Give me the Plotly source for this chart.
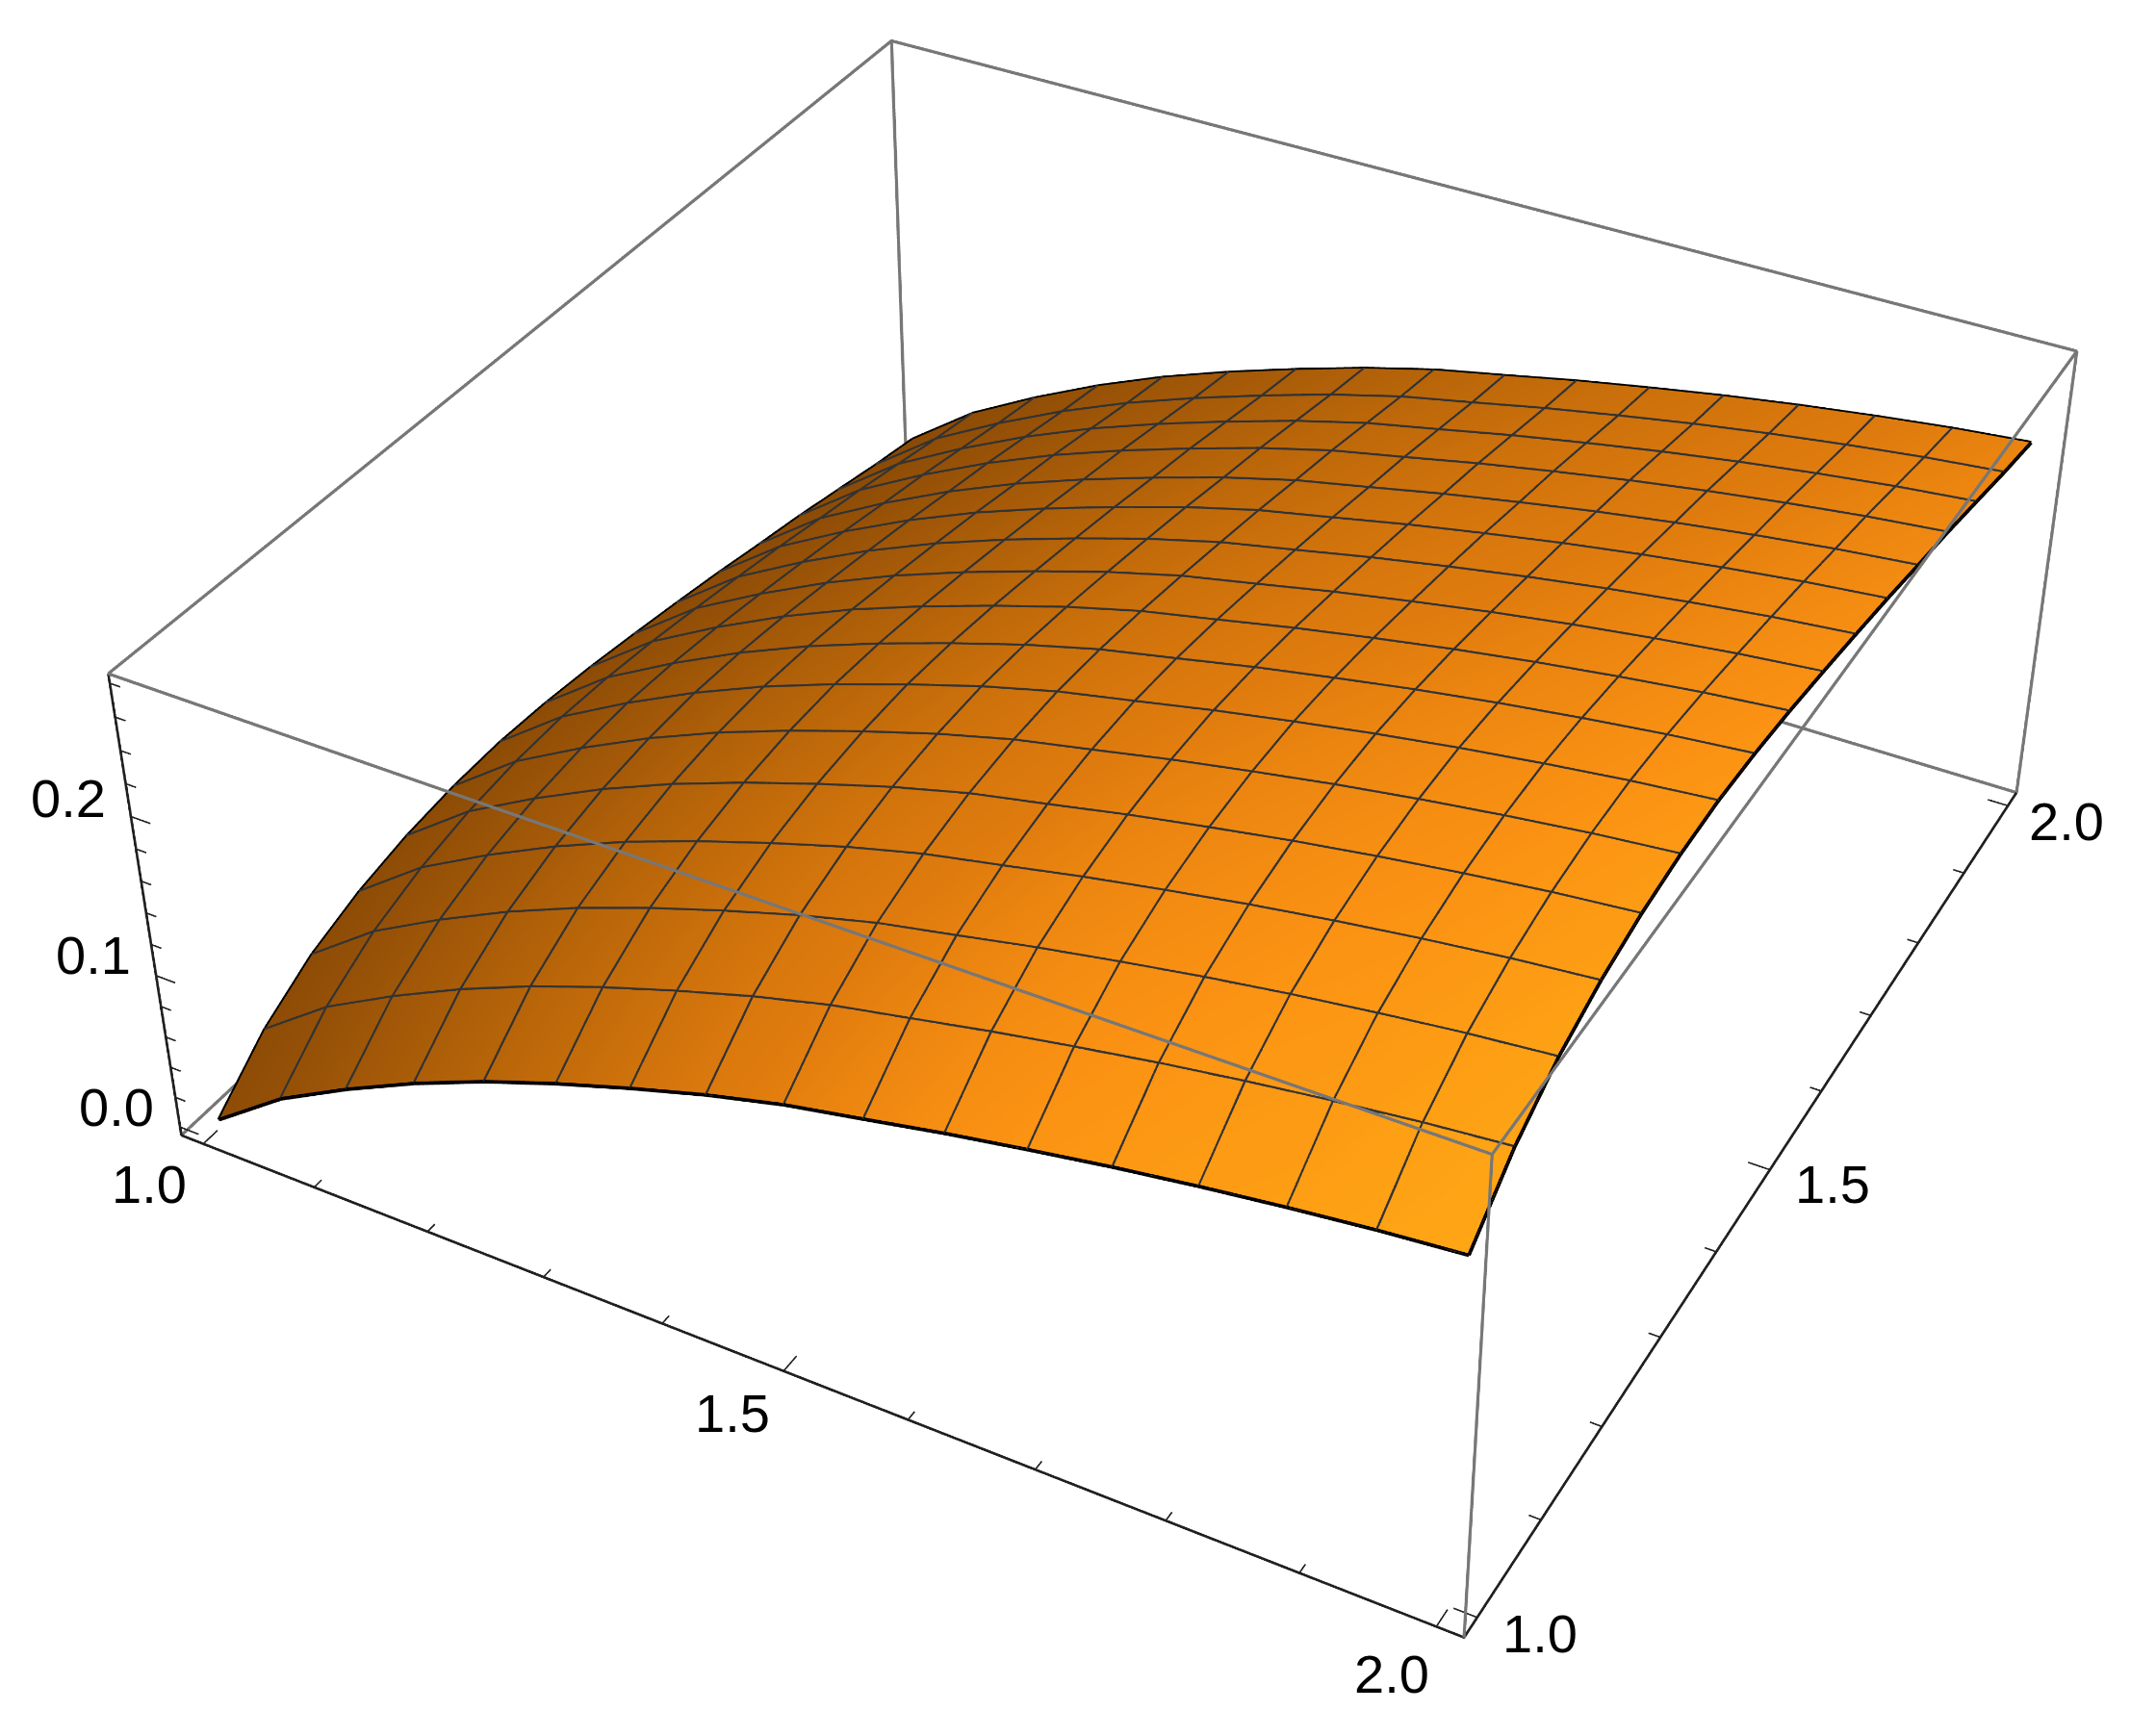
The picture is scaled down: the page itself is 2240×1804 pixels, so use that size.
import plotly.graph_objects as go

x_grid = [1, 1.0625, 1.125, 1.1875, 1.25, 1.3125, 1.375, 1.4375, 1.5, 1.5625, 1.625, 1.6875, 1.75, 1.8125, 1.875, 1.9375, 2]
y_grid = [1, 1.0625, 1.125, 1.1875, 1.25, 1.3125, 1.375, 1.4375, 1.5, 1.5625, 1.625, 1.6875, 1.75, 1.8125, 1.875, 1.9375, 2]

z_table = [
    [0, .032, .0561, .0777, .0966, .113, .1278, .1415, .1533, .1625, .1719, .1803, .1882, .1952, .2014, .2069, .2113],
    [.028, .06, .0841, .1057, .1246, .141, .1558, .1695, .1813, .1905, .1999, .2083, .2162, .2232, .2294, .2349, .2393],
    [.0466, .0786, .1027, .1243, .1432, .1596, .1744, .1881, .1999, .2091, .2185, .2269, .2348, .2418, .248, .2535, .2579],
    [.0583, .0903, .1144, .136, .1549, .1713, .1861, .1998, .2116, .2208, .2302, .2386, .2465, .2535, .2597, .2652, .2696],
    [.0657, .0977, .1218, .1434, .1623, .1787, .1935, .2072, .219, .2282, .2376, .246, .2539, .2609, .2671, .2726, .277],
    [.0698, .1018, .1259, .1475, .1664, .1828, .1976, .2113, .2231, .2323, .2417, .2501, .258, .265, .2712, .2767, .2811],
    [.0712, .1032, .1273, .1489, .1678, .1842, .199, .2127, .2245, .2337, .2431, .2515, .2594, .2664, .2726, .2781, .2825],
    [.0697, .1017, .1258, .1474, .1663, .1827, .1975, .2112, .223, .2322, .2416, .25, .2579, .2649, .2711, .2766, .281],
    [.0665, .0985, .1226, .1442, .1631, .1795, .1943, .208, .2198, .229, .2384, .2468, .2547, .2617, .2679, .2734, .2778],
    [.0621, .0941, .1182, .1398, .1587, .1751, .1899, .2036, .2154, .2246, .234, .2424, .2503, .2573, .2635, .269, .2734],
    [.0572, .0892, .1133, .1349, .1538, .1702, .185, .1987, .2105, .2197, .2291, .2375, .2454, .2524, .2586, .2641, .2685],
    [.0519, .0839, .108, .1296, .1485, .1649, .1797, .1934, .2052, .2144, .2238, .2322, .2401, .2471, .2533, .2588, .2632],
    [.0458, .0778, .1019, .1235, .1424, .1588, .1736, .1873, .1991, .2083, .2177, .2261, .234, .241, .2472, .2527, .2571],
    [.0401, .0721, .0962, .1178, .1367, .1531, .1679, .1816, .1934, .2026, .212, .2204, .2283, .2353, .2415, .247, .2514],
    [.0334, .0654, .0895, .1111, .13, .1464, .1612, .1749, .1867, .1959, .2053, .2137, .2216, .2286, .2348, .2403, .2447],
    [.0266, .0586, .0827, .1043, .1232, .1396, .1544, .1681, .1799, .1891, .1985, .2069, .2148, .2218, .228, .2335, .2379],
    [.0207, .0527, .0768, .0984, .1173, .1337, .1485, .1622, .174, .1832, .1926, .201, .2089, .2159, .2221, .2276, .232],
]

# brightness of the orange along the near (y=1) and far (y=2) edges
shade_front = [.03, .1, .19, .29, .4, .5, .6, .7, .77, .83, .88, .91, .93, .95, .96, .98, 1]
shade_back = [0, .03, .07, .11, .16, .21, .27, .33, .39, .45, .51, .56, .61, .66, .71, .76, .8]
shade = [[f + (b - f) * j / 16 for f, b in zip(shade_front, shade_back)] for j in range(17)]

x_box = [0.98, 2.02]
y_box = [0.98, 2.02]
z_box = [-0.0056, 0.2856]
x_ticks = [1.0, 1.1, 1.2, 1.3, 1.4, 1.5, 1.6, 1.7, 1.8, 1.9, 2.0]
y_ticks = [1.0, 1.1, 1.2, 1.3, 1.4, 1.5, 1.6, 1.7, 1.8, 1.9, 2.0]
z_ticks = [0, .02, .04, .06, .08, .1, .12, .14, .16, .18, .2, .22, .24, .26, .28]
major = [1.0, 1.5, 2.0]
z_major = [0, .1, .2]

GRAY = "#777777"
DARK = "#202020"
MESH = "#333333"
font = dict(family="Liberation Sans", size=56, color="black")

fig = go.Figure()
fig.add_trace(go.Surface(
    x=x_grid, y=y_grid, z=z_table, surfacecolor=shade, cmin=0, cmax=1,
    showscale=False, hoverinfo="skip",
    colorscale=[[0, "#8a4a06"], [.5, "#c46c0a"], [.74, "#e07c0e"], [.9, "#fb9213"], [1, "#ffa615"]],
    lighting=dict(ambient=1, diffuse=0, specular=0, roughness=1, fresnel=0),
))


def lines(xs, ys, zs, color, width):
    fig.add_trace(go.Scatter3d(x=xs, y=ys, z=zs, mode="lines", hoverinfo="skip",
                               showlegend=False, line=dict(color=color, width=width)))


# mesh
for j in range(1, 16):
    lines(x_grid, [y_grid[j]] * 17, z_table[j], MESH, 8)
for i in range(1, 16):
    lines([x_grid[i]] * 17, y_grid, [r[i] for r in z_table], MESH, 8)

# surface outline
lines(x_grid, [1] * 17, z_table[0], "black", 7)
lines(x_grid, [2] * 17, z_table[16], "black", 7)
lines([1] * 17, y_grid, [r[0] for r in z_table], "black", 7)
lines([2] * 17, y_grid, [r[16] for r in z_table], "black", 7)

# box
x0, x1 = x_box
y0, y1 = y_box
z0, z1 = z_box
lines([x0, x1, x1, x0, x0], [y0, y0, y1, y1, y0], [z1] * 5, GRAY, 6)
lines([x1, x0, x0], [y1, y1, y0], [z0] * 3, GRAY, 6)
lines([x1, x1], [y0, y0], [z0, z1], GRAY, 6)
lines([x1, x1], [y1, y1], [z0, z1], GRAY, 6)
lines([x0, x0], [y1, y1], [z0, z1], GRAY, 6)
lines([x0, x1, x1], [y0, y0, y1], [z0, z0, z0], DARK, 5)
lines([x0, x0], [y0, y0], [z0, z1], DARK, 5)

# ticks
for v in x_ticks:
    n = .017 if v in major else .009
    lines([v, v], [y0, y0 + n], [z0, z0], DARK, 3)
for v in y_ticks:
    n = .017 if v in major else .009
    lines([x1, x1 - n], [v, v], [z0, z0], DARK, 3)
for v in z_ticks:
    n = .017 if v in z_major else .009
    lines([x0, x0 + n], [y0, y0], [v, v], DARK, 3)

labels = []
for v, sx, sy in zip(major, [-56, -53, -46], [-42, -44, -49]):
    labels.append(dict(x=v, y=y0, z=z0, text=f"{v:.1f}", xshift=sx, yshift=sy))
for v, sx, sy in zip(major, [65, 65, 61], [-17, -15, -16]):
    labels.append(dict(x=x1, y=v, z=z0, text=f"{v:.1f}", xshift=sx, yshift=sy))
for v, sx, sy in zip(z_major, [-66, -65, -65], [21, 21, 19]):
    labels.append(dict(x=x0, y=y0, z=v, text=f"{v:.1f}", xshift=sx, yshift=sy))
for a in labels:
    a.update(showarrow=False, font=font, xanchor="center", yanchor="middle")

# axis ranges a little wider than the box, lines sitting on the clip bounds get eaten
axis = dict(visible=False)
fig.update_layout(
    width=2372, height=4072, margin=dict(l=0, r=0, t=0, b=0, pad=0),
    paper_bgcolor="white", showlegend=False,
    scene=dict(
        domain=dict(x=[0, 1], y=[0, 1]), bgcolor="white",
        xaxis=dict(axis, range=[.976, 2.024]), yaxis=dict(axis, range=[.976, 2.024]), zaxis=dict(axis, range=[-.0076, .2876]),
        aspectmode="manual", aspectratio=dict(x=1.00769, y=1.00769, z=.40549),
        camera=dict(eye=dict(x=1.3, y=-2.4, z=2), center=dict(x=0, y=0, z=0), up=dict(x=0, y=0, z=1)),
        annotations=labels,
    ),
)

# the scene is taller than the window so the 45 degree lens gives the long focal length of the reference
shift = ("var gd=document.getElementById('{plot_id}');"
         "document.documentElement.style.overflow='hidden';document.body.style.overflow='hidden';"
         "gd.style.position='fixed';gd.style.left='0px';gd.style.top='-1269px';")
fig.write_html("out.html", post_script=shift)
